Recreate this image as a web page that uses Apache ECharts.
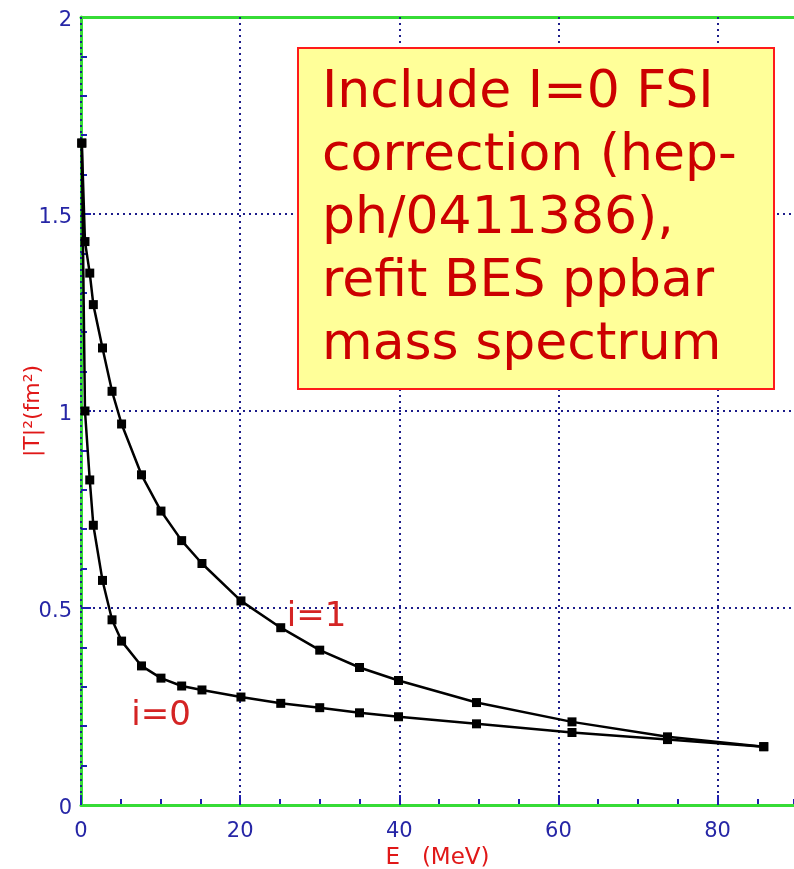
<!DOCTYPE html>
<html>
<head>
<meta charset="utf-8">
<title>|T|² vs E</title>
<script src="https://cdn.jsdelivr.net/npm/echarts@6/dist/echarts.min.js"></script>
<style>
  html, body { margin: 0; padding: 0; background: #ffffff; }
  #chart { width: 794px; height: 869px; }
</style>
</head>
<body>
<div id="chart"></div>
<script>
// Energy grid (MeV) shared by both isospin curves
const energy = [0.1, 0.5, 1.1, 1.55, 2.7, 3.9, 5.1, 7.6, 10.05, 12.65, 15.2, 20.1, 25.1, 30.0, 35.0, 39.9, 49.7, 61.7, 73.7, 85.8];
// |T|^2 in fm^2 for I=1 and I=0
const tSqI1 = [1.68, 1.43, 1.35, 1.27, 1.16, 1.05, 0.967, 0.838, 0.746, 0.671, 0.613, 0.518, 0.45, 0.393, 0.349, 0.316, 0.26, 0.211, 0.173, 0.148];
const tSqI0 = [1.68, 1.0, 0.825, 0.71, 0.57, 0.47, 0.416, 0.353, 0.322, 0.302, 0.292, 0.274, 0.258, 0.247, 0.234, 0.224, 0.206, 0.184, 0.166, 0.148];

const curveLabels = ['i=1', 'i=0'];
const labelAnchors = [[29.6, 0.477], [10.05, 0.226]];

const noteLines = ['Include I=0 FSI', 'correction (hep-', 'ph/0411386),', 'refit BES ppbar', 'mass spectrum'];

const xName = 'E   (MeV)';
const yName = '|T|\u00b2(fm\u00b2)';

// visible energy range of the frame
const xMin = 0, xMax = 89.6;

const FONT = 'DejaVu Sans';
const TICK_BLUE = '#1f1fb0';
const GRID_NAVY = '#1c1c8a';
const AXIS_GREEN = '#36dc36';
const LABEL_RED = '#d42424';

function pairs(xs, ys) { return xs.map((x, i) => [x, ys[i]]); }

function curve(name, ys, idx) {
  return {
    name: name,
    type: 'line',
    xAxisIndex: 0,
    data: pairs(energy, ys),
    symbol: 'rect',
    symbolSize: 9,
    showSymbol: true,
    lineStyle: { color: '#000000', width: 2.5 },
    itemStyle: { color: '#000000' },
    z: 5,
    markPoint: {
      symbol: 'rect',
      symbolSize: 0,
      silent: true,
      label: {
        show: true,
        position: 'inside',
        formatter: curveLabels[idx],
        color: LABEL_RED,
        fontFamily: FONT,
        fontSize: 34
      },
      data: [{ coord: labelAnchors[idx] }]
    }
  };
}

const chart = echarts.init(document.getElementById('chart'), null, { renderer: 'canvas' });

chart.setOption({
  backgroundColor: '#ffffff',
  animation: false,
  grid: {
    left: 81,
    top: 17,
    bottom: 64,
    right: 0,
    outerBoundsMode: 'none',
    containLabel: false,
    show: false
  },
  xAxis: [
    {
      // main energy axis: labels, major ticks, grid lines
      type: 'value',
      position: 'bottom',
      min: xMin,
      max: xMax,
      interval: 20,
      name: xName,
      nameLocation: 'middle',
      nameGap: 42,
      nameMoveOverlap: false,
      nameTextStyle: { color: '#e01818', fontFamily: FONT, fontSize: 23 },
      axisLine: { show: true, onZero: false, lineStyle: { color: AXIS_GREEN, width: 3 } },
      axisTick: { show: true, inside: true, length: 10, lineStyle: { color: TICK_BLUE, width: 2 } },
      minorTick: { show: false },
      axisLabel: { color: '#2626a6', fontFamily: FONT, fontSize: 21, margin: 16, showMaxLabel: false },
      splitLine: { show: true, showMaxLine: false, lineStyle: { color: GRID_NAVY, width: 2, type: [2, 4] } },
      z: 2
    },
    {
      // 5 MeV small ticks along the bottom edge
      type: 'value',
      position: 'bottom',
      min: xMin,
      max: xMax,
      interval: 5,
      axisLine: { show: false },
      axisTick: { show: true, inside: true, length: 6, lineStyle: { color: TICK_BLUE, width: 2 } },
      axisLabel: { show: false },
      splitLine: { show: false },
      z: 1
    },
    {
      // top frame line
      type: 'value',
      position: 'top',
      min: xMin,
      max: xMax,
      interval: 20,
      axisLine: { show: true, onZero: false, lineStyle: { color: AXIS_GREEN, width: 3 } },
      axisTick: { show: false },
      axisLabel: { show: false },
      splitLine: { show: false },
      z: 1
    }
  ],
  yAxis: {
    type: 'value',
    min: 0,
    max: 2,
    interval: 0.5,
    name: yName,
    nameLocation: 'middle',
    nameGap: 37,
    nameMoveOverlap: false,
    nameRotate: 90,
    nameTextStyle: { color: '#e01818', fontFamily: FONT, fontSize: 22 },
    axisLine: { show: true, onZero: false, lineStyle: { color: AXIS_GREEN, width: 3 } },
    axisTick: { show: true, inside: true, length: 10, lineStyle: { color: TICK_BLUE, width: 2 } },
    minorTick: { show: true, splitNumber: 5, length: 6, lineStyle: { color: TICK_BLUE, width: 2 } },
    axisLabel: {
      margin: 9,
      verticalAlignMinLabel: 'middle',
      verticalAlignMaxLabel: 'middle',
      formatter: '{v|{value}}',
      rich: {
        v: { color: '#2626a6', fontFamily: FONT, fontSize: 21, padding: [8, 0, 0, 0] }
      }
    },
    splitLine: { show: true, lineStyle: { color: GRID_NAVY, width: 2, type: [2, 4] } }
  },
  series: [
    curve('I=1', tSqI1, 0),
    curve('I=0', tSqI0, 1)
  ],
  graphic: [
    {
      type: 'rect',
      left: 297,
      top: 47,
      shape: { width: 476, height: 341 },
      style: { fill: '#ffff99', stroke: '#ff1a1a', lineWidth: 2 },
      z: 10
    },
    {
      type: 'text',
      left: 322,
      top: 62,
      style: {
        text: noteLines.join('\n'),
        fill: '#cc0000',
        font: '52px "DejaVu Sans"',
        lineHeight: 63
      },
      z: 11
    }
  ]
});
</script>
</body>
</html>
